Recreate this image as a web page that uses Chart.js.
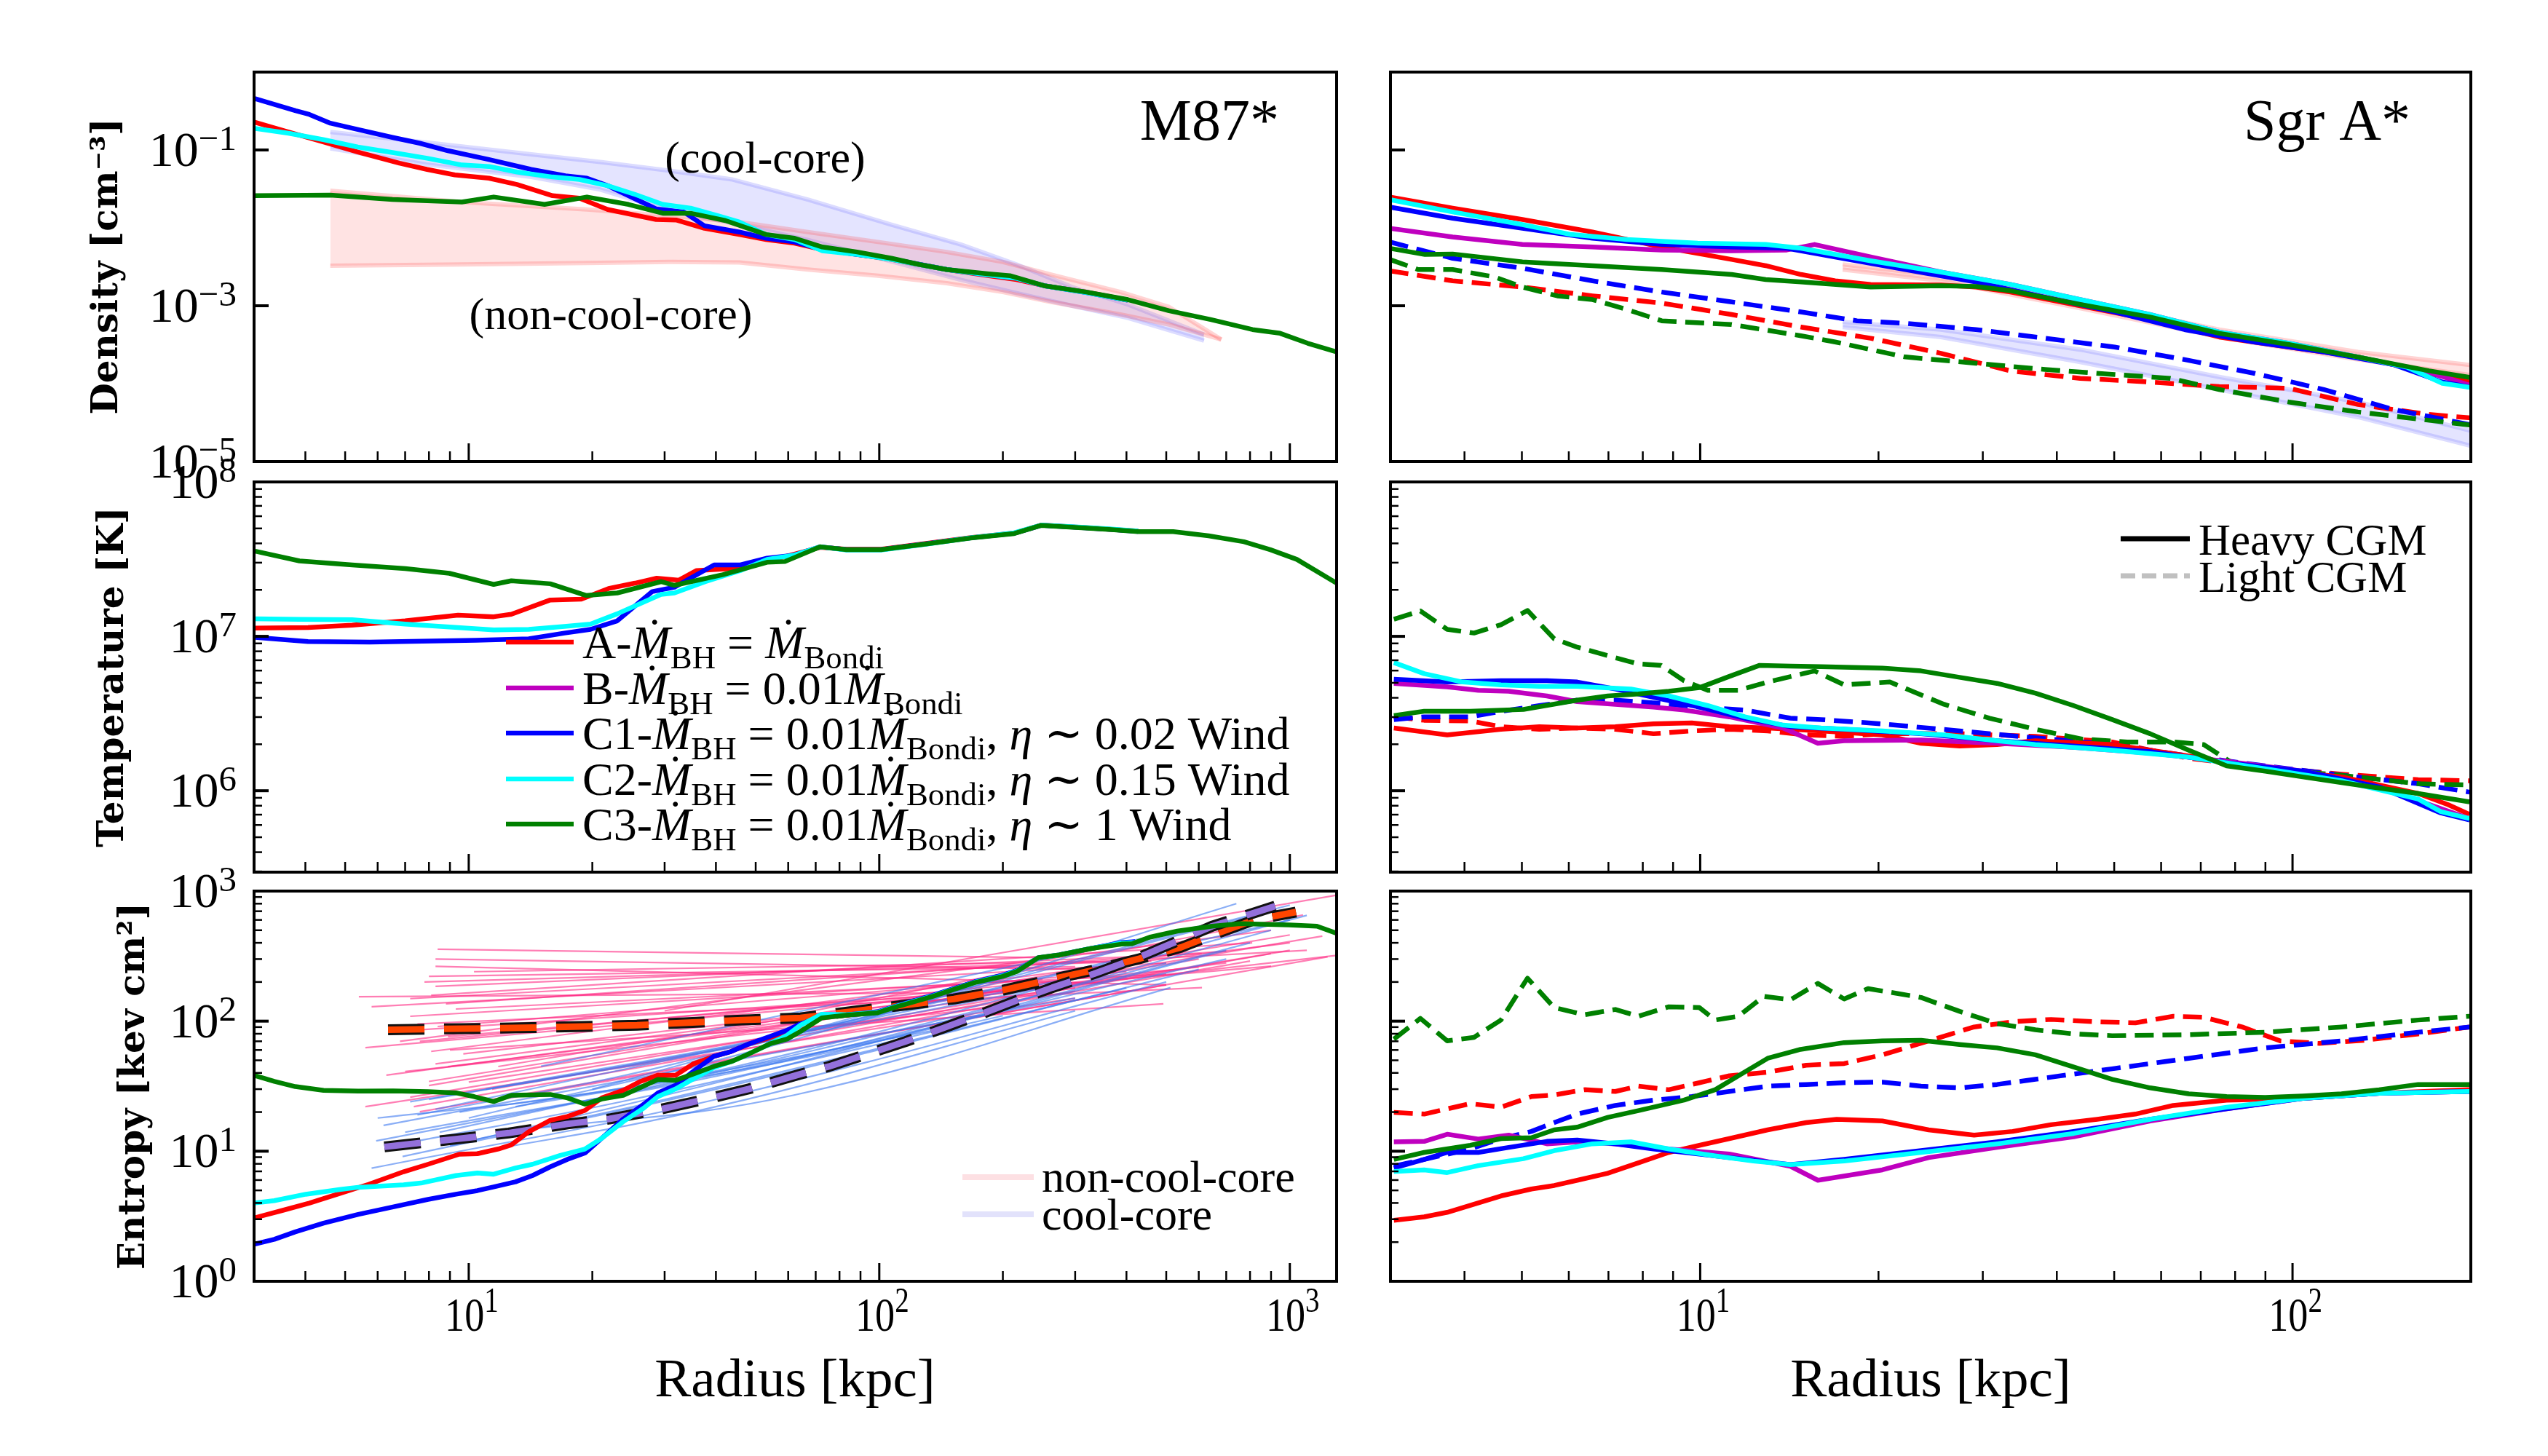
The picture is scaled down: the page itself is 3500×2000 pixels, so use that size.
<!DOCTYPE html>
<html><head><meta charset="utf-8">
<script src="https://cdn.jsdelivr.net/npm/chart.js@4.4.1/dist/chart.umd.min.js"></script>
<style>
html,body{margin:0;padding:0;background:#fff;}
#page{position:relative;width:3500px;height:2000px;background:#fff;overflow:hidden;}
canvas{position:absolute;}
</style></head><body><div id="page"></div>
<script>
// ================= DATA =================
// ---- M87* : density [cm^-3] vs radius [kpc] ----
const m87DensR_A = [2.99,3.64,4.42,5.37,6.78,7.92,9.25,11.2,13.1,16.0,18.6,21.8,28.6,32.1,37.5,45.6,53,62.2,72.7,88.3,107,146,185,216,252,319,403];
const m87Dens_A  = [0.229,0.170,0.127,0.0942,0.0676,0.0562,0.0478,0.0434,0.0361,0.0259,0.0240,0.0172,0.0128,0.0126,0.00989,0.00822,0.00709,0.00635,0.00527,0.00455,0.00393,0.00292,0.00243,0.00217,0.00181,0.00150,0.00118];
const m87DensR_C1 = [2.99,3.79,4.09,4.6,5.37,6.52,7.6,8.9,11.2,14.2,17.2,19.4,21.8,28.6,33.4,37.5,45.6,53,62.2,72.7,88.3,107,146,185,216,252,319,403];
const m87Dens_C1  = [0.462,0.319,0.286,0.221,0.183,0.145,0.122,0.0978,0.0755,0.0562,0.0467,0.0434,0.0348,0.0175,0.0160,0.01064,0.00885,0.00736,0.00659,0.00527,0.00455,0.00400,0.00292,0.00248,0.00225,0.00181,0.00148,0.00118];
const m87DensR_C2 = [2.99,3.64,4.42,5.37,6.52,7.92,9.62,11.2,13.1,16.0,18.6,21.8,25.4,29.7,34.7,40.5,45.6,53,62.2,72.7,88.3,107,146,185,216,252,319,403];
const m87Dens_C2  = [0.190,0.164,0.136,0.109,0.0929,0.0783,0.0642,0.0614,0.0522,0.0450,0.0418,0.0348,0.0269,0.0200,0.0179,0.0143,0.0119,0.00822,0.00709,0.00508,0.00455,0.00393,0.00292,0.00248,0.00225,0.00181,0.00148,0.00118];
const m87DensR_C3 = [2.99,4.6,6.52,9.62,11.5,15.3,19.4,24.5,29.7,34.7,42.2,53,62.2,72.7,88.3,107,125,146,185,208,252,319,403,508,641,811,947,1106,1334];
const m87Dens_C3  = [0.0259,0.0264,0.0231,0.0215,0.0249,0.0200,0.0249,0.0200,0.0154,0.0154,0.0124,0.00822,0.00736,0.00568,0.00490,0.00407,0.00339,0.00292,0.00256,0.00243,0.00181,0.00150,0.00120,0.000863,0.000666,0.000495,0.000443,0.000330,0.000245];
// observed bands (density)
const ccBandR  = [4.6,7.9,14.2,20.9,30.9,43.9,67,107,158,216,295,403,618];
const ccBandHi = [0.170,0.125,0.088,0.070,0.0542,0.0418,0.0231,0.0110,0.00612,0.00339,0.00174,0.00104,0.000427];
const ccBandLo = [0.105,0.0652,0.0450,0.0311,0.0165,0.0115,0.0070,0.0037,0.00215,0.00145,0.00100,0.00070,0.000356];
const nccBandR  = [4.6,9.62,19.4,30.9,45.6,67,99.3,146,200,262,387,508,681];
const nccBandHi = [0.0300,0.0215,0.0172,0.0143,0.0119,0.00885,0.00659,0.00490,0.00365,0.00252,0.00150,0.000964,0.000369];
const nccBandLo = [0.00327,0.00339,0.00355,0.00365,0.00360,0.00292,0.00243,0.00195,0.00150,0.00112,0.000772,0.000574,0.000369];

// ---- M87* : temperature [K] ----
const m87TempR_A = [3.02,4.06,5.2,7.0,9.42,11.5,12.7,15.8,18.8,21.9,25.4,28.7,32.5,35.9,43.7,50.7,58.9,71.8,83.2,101,130,167,213,248,317,368,427];
const m87Temp_A  = [1.13e7,1.14e7,1.18e7,1.26e7,1.37e7,1.34e7,1.39e7,1.72e7,1.74e7,2.04e7,2.21e7,2.38e7,2.31e7,2.67e7,2.75e7,3.08e7,3.28e7,3.77e7,3.66e7,3.66e7,4.0e7,4.36e7,4.66e7,5.25e7,5.06e7,4.93e7,4.80e7];
const m87TempR_C1 = [3.02,4.06,5.74,7.73,10.4,14.0,17.1,19.8,23.0,28.0,31.7,39.6,45.9,53.3,61.8,71.8,83.2,101,130,167,213,248,317,368,427];
const m87Temp_C1  = [9.84e6,9.25e6,9.17e6,9.31e6,9.44e6,9.64e6,1.05e7,1.11e7,1.26e7,1.95e7,2.08e7,2.90e7,2.90e7,3.21e7,3.35e7,3.80e7,3.64e7,3.64e7,3.97e7,4.34e7,4.65e7,5.24e7,5.05e7,4.92e7,4.78e7];
const m87TempR_C2 = [3.02,3.87,5.2,7.0,8.97,11.5,14.0,17.1,19.8,23.0,29.4,31.7,37.7,45.9,53.3,61.8,71.8,83.2,101,130,167,213,248,317,368,427];
const m87Temp_C2  = [1.30e7,1.29e7,1.28e7,1.20e7,1.15e7,1.10e7,1.11e7,1.16e7,1.20e7,1.40e7,1.87e7,1.91e7,2.26e7,2.67e7,3.15e7,3.35e7,3.80e7,3.62e7,3.62e7,3.95e7,4.35e7,4.68e7,5.25e7,5.08e7,4.95e7,4.80e7];
const m87TempR_C3 = [3.02,3.87,5.2,7.0,8.97,11.5,12.7,15.8,19.3,23.0,29.4,31.7,41.6,53.3,58.9,71.8,83.2,101,130,167,213,248,317,368,427,520,634,773,897,1040,1300];
const m87Temp_C3  = [3.56e7,3.08e7,2.90e7,2.75e7,2.56e7,2.17e7,2.29e7,2.19e7,1.84e7,1.91e7,2.26e7,2.14e7,2.51e7,3.02e7,3.05e7,3.80e7,3.64e7,3.64e7,3.96e7,4.33e7,4.63e7,5.23e7,5.03e7,4.91e7,4.77e7,4.77e7,4.48e7,4.10e7,3.64e7,3.15e7,2.21e7];

// ---- M87* : entropy [keV cm^2] ----
const m87EntR_A = [2.99,3.50,4.09,4.79,5.71,6.94,7.96,9.48,10.5,11.8,12.7,14.0,15.8,17.4,19.2,21.1,23.8,26.2,28.9,31.9,35.2,39.5,43.6,48.1,54.1,59.7,64.3,72.4,83.0,99,111,135,171,200,217,244,274,327,389,420];
const m87Ent_A  = [3.06,3.49,3.99,4.67,5.57,6.95,7.94,9.48,9.57,10.4,11.2,14.1,17.3,18.5,20.6,25.7,29.4,34.4,38.4,38.4,46.9,53.5,58.5,66.8,74.7,83.4,95.2,108,111,117,131,157,200,225,245,306,321,360,400,405];
const m87EntR_C1 = [2.99,3.36,3.78,4.43,5.38,6.54,7.96,9.31,10.5,11.5,13.0,14.3,15.8,17.4,19.2,21.1,23.8,26.7,28.9,31.9,35.2,39.5,43.6,48.1,54.1,59.7,64.3,72.4,83.0,99,111,135,171,200,217,244,274,327,389,420];
const m87Ent_C1  = [1.92,2.10,2.40,2.80,3.27,3.73,4.26,4.67,4.98,5.32,5.82,6.50,7.59,8.67,9.70,12.6,17.7,23.0,28.1,32.1,41.0,53.5,58.5,66.8,76.2,85.3,95.2,109,112,118,132,158,201,226,246,307,323,362,402,408];
const m87EntR_C2 = [2.99,3.36,4.01,4.88,5.38,6.94,7.65,9.31,10.5,11.5,13.0,14.3,16.7,19.2,21.1,23.8,26.7,28.9,31.9,35.2,39.5,43.6,48.1,54.1,59.7,64.3,72.4,83.0,99,111,135,171,200,217,244,274,327,389,420];
const m87Ent_C2  = [3.99,4.17,4.67,5.09,5.28,5.52,5.69,6.50,6.80,6.65,7.43,7.94,9.27,10.4,12.6,16.9,21.5,26.3,30.1,35.9,43.8,48.9,56.0,66.8,78.0,93.1,113,112,117,131,156,199,223,244,307,322,362,398,402];
const m87EntR_C3 = [2.99,3.36,3.78,4.43,5.38,6.54,7.96,9.31,10.3,11.5,12.7,15.8,17.4,19.2,21.1,23.8,28.9,31.9,35.2,39.5,43.6,48.1,54.1,59.7,64.3,72.4,83.0,99,111,135,171,200,217,244,274,327,389,413,455,532,647,757,995,1164,1309];
const m87Ent_C3  = [38.4,34.4,31.4,29.4,29.0,29.1,28.7,28.1,26.3,24.1,26.9,27.3,25.7,23.0,25.2,26.9,35.6,35.1,39.2,44.8,48.9,56.0,66.8,73.0,83.4,106,111,116,130,155,198,221,242,308,323,361,391,394,441,492,537,562,550,537,470];
// observed medians
const nccMedR = [6.36,14.3,25.7,46.3,64.3,86.3,116,152,200,258,333,430,543,661,819,1035];
const nccMed  = [85.9,89.1,93.1,102,106,119,133,148,173,207,247,302,369,470,600,690];
const ccMedR = [6.23,7.65,9.31,12.5,17.4,22.0,29.5,38.0,48.1,64.3,75.4,91.6,116,144,178,217,264,333,421,532,647,757,921];
const ccMed  = [10.8,11.6,12.4,13.8,16.2,17.7,21.1,25.2,30.1,39.2,44.8,54.7,69.8,89.1,114,145,181,231,302,412,537,628,766];
// individual observed profiles: [r_start, K_start, r_end, K_end]
const nccProfiles = [
 [8.4,357,244,308],[8.3,300,330,250],[10.3,240,420,290],[8.0,221,300,262],[7.8,200,460,290],
 [5.4,154,150,165],[8.3,185,610,330],[5.8,129,500,280],[8.1,158,810,400],[8.8,136,700,345],
 [5.6,62.5,350,200],[6.8,70,900,500],[8.1,58.5,1000,400],[6.3,38.4,400,220],[8.0,34.4,600,300],
 [5.6,22.0,300,150],[7.35,22.0,800,290],[8.0,32,1200,450],[7.2,26,1000,350],[7.6,20.1,500,190],
 [8.3,46.9,700,280],[8.9,44.8,300,180],[9.7,56,1300,320],[7.2,109,250,210],[6.5,83,200,170],
 [8.4,91,400,240],[7.6,70,600,260],[8.9,76,900,265],[10,34,300,170],[11.4,30,900,330],
 [8.3,264,500,190],[9.3,124,500,230],[7.2,149,1100,350],[11.8,44.8,1000,460],[7.0,41,200,130],
 [30,120,1300,930],[12,25,1236,312],[60,110,1077,656],[7.5,95,611,181],[9,60,492,136]
];
// [r_start, K_start, r_mid, K_mid, r_end, K_end]
const ccProfiles = [
 [5.8,7.4,40,25,500,200],[6.2,15.8,30,40,300,150],[5.95,12,50,45,700,300],[6.9,9.1,40,30,600,250],
 [8.3,21,40,60,400,260],[7,14,60,50,900,500],[9,11,50,40,800,400],[10,18,60,70,741,800],
 [8,25,50,70,500,350],[12,14,62,27,512,181],[9,9,40,22,300,120],[7.5,19,30,45,900,700],
 [6.5,11,25,25,200,110],[11,30,60,80,1000,600],[8.5,14,70,60,500,280],[7.2,24,35,55,250,180],
 [9.5,20,45,45,1100,650],[6,18,20,28,150,90],[13,22,80,60,700,350],[10,12,30,25,400,180],
 [20,30,100,120,1000,780],[15,45,100,160,640,560]
];

// ---- Sgr A* : density ----
const sgrDensR_A = [2.99,3.82,5.01,6.58,8.61,11.3,12.9,14.8,16.9,19.4,25.5,29.2,33.4,43.8,57.4,75.2,98.6,129,148,170,204];
const sgrDens_A  = [0.0249,0.0179,0.0128,0.00885,0.00568,0.00393,0.00327,0.00252,0.00209,0.00188,0.00185,0.00174,0.00150,0.00100,0.000666,0.000397,0.000295,0.000220,0.000176,0.000136,0.000101];
const sgrDensR_B = [2.99,3.82,5.01,6.58,8.61,11.3,14.0,15.6,19.4,25.5,33.4,43.8,57.4,75.2,98.6,129,170,204];
const sgrDens_B  = [0.00989,0.00764,0.00612,0.00568,0.00520,0.00508,0.00520,0.00612,0.00423,0.00271,0.00188,0.00120,0.000772,0.000460,0.000330,0.000220,0.000140,0.0000900];
const sgrDensR_C1 = [2.99,3.82,5.01,6.58,8.61,11.3,14.0,16.9,22.2,29.2,38.2,50.1,65.7,86.1,113,148,179,204];
const sgrDens_C1  = [0.0185,0.0133,0.00989,0.00736,0.00612,0.00568,0.00547,0.00423,0.00292,0.00202,0.00129,0.000832,0.000495,0.000343,0.000255,0.000176,0.000105,0.0000873];
const sgrDensR_C2 = [2.99,3.82,5.01,6.05,7.52,9.9,12.9,14.8,19.4,25.5,33.4,43.8,57.4,75.2,98.6,129,156,179,204];
const sgrDens_C2  = [0.0231,0.0160,0.0110,0.00822,0.00709,0.00635,0.00612,0.00547,0.00378,0.00271,0.00188,0.00120,0.000772,0.000460,0.000330,0.000220,0.000163,0.000101,0.0000873];
const sgrDensR_C3 = [2.99,3.43,3.82,5.01,6.58,8.61,11.3,12.9,14.8,19.4,25.5,29.2,33.4,43.8,57.4,75.2,98.6,129,170,204];
const sgrDens_C3  = [0.00547,0.00455,0.00462,0.00365,0.00327,0.00292,0.00252,0.00217,0.00202,0.00174,0.00181,0.00177,0.00156,0.00104,0.000718,0.000443,0.000318,0.000220,0.000146,0.000117];
const sgrDensR_A_light = [2.99,3.82,5.01,6.58,8.61,11.3,14.8,19.4,25.5,33.4,43.8,57.4,75.2,98.6,129,170,204];
const sgrDens_A_light  = [0.00281,0.00209,0.00174,0.00134,0.00108,0.000772,0.000533,0.000383,0.000245,0.000146,0.000117,0.000105,0.0000918,0.0000873,0.0000540,0.0000402,0.0000359];
const sgrDensR_C1_light = [2.99,3.82,5.01,6.58,8.61,11.3,14.8,18.4,22.2,29.2,38.2,50.1,65.7,86.1,113,148,204];
const sgrDens_C1_light  = [0.00659,0.00407,0.00303,0.00209,0.00150,0.00112,0.000832,0.000641,0.000595,0.000495,0.000383,0.000295,0.000204,0.000136,0.0000841,0.0000466,0.0000288];
const sgrDensR_C3_light = [2.99,3.34,3.82,4.5,5.01,5.74,6.58,7.52,8.61,11.3,14.8,16.9,22.2,29.2,38.2,50.1,62.2,75.2,98.6,129,204];
const sgrDens_C3_light  = [0.00393,0.00292,0.00292,0.00234,0.00174,0.00134,0.00120,0.000895,0.000641,0.000574,0.000412,0.000343,0.000220,0.000183,0.000152,0.000131,0.000117,0.0000841,0.0000581,0.0000433,0.0000288];
const sgrBandR = [17.4,25.5,43.8,75.2,129,204];
const heavyBandHi = [0.00339,0.00243,0.00116,0.000495,0.000255,0.000170];
const heavyBandLo = [0.00292,0.00209,0.000929,0.000397,0.000204,0.000126];
const lightBandHi = [0.000618,0.000495,0.000274,0.000122,0.0000581,0.0000239];
const lightBandLo = [0.000533,0.000397,0.000190,0.0000841,0.0000372,0.0000153];

// ---- Sgr A* : temperature ----
const sgrTempR_A = [3.04,3.74,4.61,5.35,6.20,7.19,8.34,9.68,11.2,13.0,16.0,20.3,23.6,27.4,31.7,36.8,49.6,66.8,89.9,121,163,183,199];
const sgrTemp_A  = [2.55e6,2.30e6,2.50e6,2.60e6,2.55e6,2.60e6,2.71e6,2.75e6,2.60e6,2.55e6,2.44e6,2.30e6,2.03e6,1.95e6,1.99e6,2.11e6,1.99e6,1.68e6,1.39e6,1.23e6,9.59e5,8.13e5,7.03e5];
const sgrTempR_B = [3.04,3.74,4.22,4.75,5.51,6.20,7.19,8.34,9.39,11.2,13.8,15.8,17.5,23.6,31.7,42.7,57.5,77.4,104,140,199];
const sgrTemp_B  = [4.96e6,4.71e6,4.47e6,4.41e6,4.11e6,3.78e6,3.63e6,3.48e6,3.33e6,3.01e6,2.55e6,2.03e6,2.11e6,2.13e6,2.03e6,1.91e6,1.75e6,1.55e6,1.34e6,1.06e6,6.60e5];
const sgrTempR_C1 = [3.04,3.74,4.61,5.51,6.20,7.19,8.34,9.97,11.9,14.2,17.5,23.6,31.7,42.7,57.5,77.4,104,140,178,199];
const sgrTemp_C1  = [5.27e6,5.06e6,5.16e6,5.16e6,5.06e6,4.56e6,4.03e6,3.48e6,2.95e6,2.60e6,2.50e6,2.34e6,2.11e6,1.95e6,1.79e6,1.52e6,1.34e6,1.06e6,7.18e5,6.46e5];
const sgrTempR_C2 = [3.04,3.42,3.97,4.61,5.35,6.20,7.64,8.85,10.3,11.9,13.8,16.0,20.3,25.8,31.7,36.8,49.6,66.8,89.9,121,163,178,199];
const sgrTemp_C2  = [6.76e6,5.73e6,5.06e6,4.85e6,4.75e6,4.75e6,4.56e6,4.11e6,3.56e6,3.01e6,2.66e6,2.55e6,2.44e6,2.30e6,2.11e6,1.99e6,1.83e6,1.65e6,1.39e6,1.16e6,8.83e5,7.33e5,6.60e5];
const sgrTempR_C3 = [3.04,3.42,4.09,5.03,6.20,6.98,7.86,8.85,9.97,11.2,12.6,14.2,16.0,20.3,23.6,27.4,31.7,36.8,42.7,49.6,57.5,66.8,77.4,89.9,104,121,140,163,199];
const sgrTemp_C3  = [3.07e6,3.27e6,3.27e6,3.36e6,3.86e6,4.11e6,4.23e6,4.41e6,4.65e6,5.50e6,6.49e6,6.41e6,6.36e6,6.22e6,5.97e6,5.43e6,4.96e6,4.29e6,3.56e6,2.89e6,2.34e6,1.83e6,1.45e6,1.34e6,1.23e6,1.13e6,1.04e6,9.59e5,8.47e5];
const sgrTempR_A_light = [3.04,3.42,4.09,4.61,5.35,6.20,7.19,8.34,9.68,11.2,13.0,15.1,17.5,20.3,27.4,36.8,49.6,66.8,89.9,121,163,199];
const sgrTemp_A_light  = [3.01e6,2.86e6,2.83e6,2.60e6,2.50e6,2.55e6,2.50e6,2.34e6,2.44e6,2.50e6,2.44e6,2.30e6,2.25e6,2.34e6,2.34e6,2.25e6,2.07e6,1.62e6,1.42e6,1.28e6,1.18e6,1.16e6];
const sgrTempR_C1_light = [3.04,3.42,4.09,4.61,5.35,6.20,7.19,8.34,9.97,11.9,14.2,16.0,20.3,27.4,36.8,49.6,66.8,89.9,121,163,199];
const sgrTemp_C1_light  = [2.89e6,3.01e6,3.01e6,3.27e6,3.56e6,3.86e6,3.86e6,3.71e6,3.48e6,3.33e6,2.95e6,2.89e6,2.71e6,2.44e6,2.20e6,1.99e6,1.68e6,1.45e6,1.26e6,1.11e6,9.79e5];
const sgrTempR_C3_light = [3.04,3.37,3.74,4.15,4.61,5.11,5.67,6.20,6.98,7.86,8.59,9.39,10.3,11.6,13.0,15.6,17.5,20.9,25.8,30.8,36.8,44.1,52.6,62.9,70.8,79.8,95.3,121,163,199];
const sgrTemp_C3_light  = [1.29e7,1.46e7,1.11e7,1.05e7,1.19e7,1.47e7,9.64e6,8.51e6,7.50e6,6.63e6,6.49e6,5.16e6,4.47e6,4.47e6,5.06e6,5.97e6,4.85e6,5.06e6,3.63e6,2.95e6,2.50e6,2.16e6,2.07e6,2.07e6,1.99e6,1.48e6,1.36e6,1.26e6,1.11e6,1.09e6];

// ---- Sgr A* : entropy ----
const sgrEntR_A = [3.04,3.42,3.74,4.22,4.61,5.19,5.67,6.20,6.98,7.86,8.85,9.97,11.2,13.0,15.1,17.0,20.3,24.3,29.0,33.7,39.1,46.8,54.3,62.9,77.4,104,140,199];
const sgrEnt_A  = [2.94,3.13,3.39,4.00,4.53,5.12,5.45,5.98,6.77,8.14,9.79,11.1,12.5,14.6,16.6,17.6,17.1,14.6,13.3,14.2,16.0,17.6,19.3,22.5,24.7,25.5,27.9,29.7];
const sgrEntR_B = [3.04,3.42,3.74,4.22,4.75,5.51,6.20,7.19,8.85,11.2,14.2,15.8,20.3,24.3,31.7,42.7,57.5,77.4,104,140,199];
const sgrEnt_B  = [11.8,11.9,13.5,12.4,13.3,11.4,11.8,11.4,10.4,9.51,7.66,5.98,7.19,8.93,10.7,12.9,17.1,21.2,25.5,27.9,28.8];
const sgrEntR_C1 = [3.04,3.42,3.74,4.22,4.75,5.51,6.20,7.19,8.34,9.97,11.9,14.2,17.5,23.6,31.7,42.7,57.5,77.4,104,140,199];
const sgrEnt_C1  = [7.42,8.65,9.79,9.79,10.7,11.9,12.2,11.4,10.4,9.51,8.65,7.88,8.65,10.1,11.8,14.2,17.6,21.2,25.5,27.9,28.8];
const sgrEntR_C2 = [3.04,3.42,3.74,4.22,5.03,5.67,6.58,7.64,8.85,10.6,12.3,14.2,17.5,23.6,31.7,42.7,57.5,77.4,104,140,199];
const sgrEnt_C2  = [6.98,7.19,6.85,7.75,8.76,10.1,11.4,11.8,10.4,9.21,8.40,7.88,8.40,9.79,11.4,13.7,17.6,21.8,25.5,27.9,28.8];
const sgrEntR_C3 = [3.04,3.42,4.09,4.61,5.19,5.67,6.20,6.98,7.86,9.39,10.6,11.6,13.0,14.7,17.5,20.3,23.6,27.4,31.7,36.8,42.7,49.6,57.5,66.8,77.4,89.9,104,121,140,163,199];
const sgrEnt_C3  = [8.65,9.79,11.1,12.5,12.7,14.6,15.3,18.2,20.5,24.7,29.7,38.0,51.8,60.4,68.4,70.5,71.3,66.2,62.3,55.1,44.4,35.7,30.7,27.6,26.3,25.9,26.6,27.6,29.7,32.6,32.6];
const sgrEntR_A_light = [3.04,3.42,4.09,4.61,5.19,5.67,6.38,7.19,7.86,8.85,9.97,11.2,13.0,15.1,17.5,20.3,24.3,29.0,33.7,39.1,46.8,54.3,62.9,70.8,82.2,95.3,111,132,163,199];
const sgrEnt_A_light  = [19.9,19.3,23.2,21.8,26.3,27.1,29.7,28.8,31.6,29.7,33.6,38.0,40.5,45.8,47.2,55.1,70.5,90.2,98.9,103,98.9,97.1,109,107,90.2,70.5,67.4,71.3,79.8,90.2];
const sgrEntR_C1_light = [3.04,3.42,4.09,4.61,5.19,5.67,6.20,7.19,8.34,9.68,11.2,13.0,15.1,17.5,20.3,23.6,27.4,31.7,36.8,42.7,49.6,66.8,89.9,121,163,199];
const sgrEnt_C1_light  = [7.66,8.65,10.4,12.5,14.2,16.6,19.3,22.5,24.7,26.3,28.8,31.6,32.6,33.6,34.0,31.6,30.7,32.6,35.7,39.2,43.0,51.8,62.3,70.5,82.2,90.2];
const sgrEntR_C3_light = [3.04,3.37,3.74,4.15,4.61,5.11,5.67,6.38,7.19,7.86,8.85,9.97,10.6,11.6,12.8,14.2,15.8,17.5,19.2,23.6,27.4,31.7,36.8,42.7,49.6,66.8,89.9,121,163,199];
const sgrEnt_C3_light  = [72.7,105,70.5,75.0,102,214,127,112,123,109,129,127,102,109,155,146,195,148,178,152,119,95.9,85.9,79.8,77.3,78.7,82.2,90.2,102,109];

// ---- axis ticks & labels ----
const densTickVals = [1e-5,1e-3,1e-1];
const densTickExp  = ['\u22125','\u22123','\u22121'];
const tempTickVals = [1e6,1e7,1e8];
const tempTickExp  = ['6','7','8'];
const entTickVals  = [1,10,100,1000];
const entTickExp   = ['0','1','2','3'];
const radTickValsL = [10,100,1000];
const radTickExpL  = ['1','2','3'];
const radTickValsR = [10,100];
const radTickExpR  = ['1','2'];

// ================= STYLE / DRAWING =================
const SERIF = '"Liberation Serif", "DejaVu Serif", serif';
const COL = {A:'#ff0000', B:'#bf00bf', C1:'#0000ff', C2:'#00ffff', C3:'#008000'};
const DASH = [26, 12];
const LW = 6.5;

function line(r, v, color, extra) {
  return Object.assign({data: r.map((x,i)=>({x:x, y:v[i]})), borderColor: color, backgroundColor: color,
    borderWidth: LW, pointRadius: 0, pointHoverRadius: 0, fill: false, tension: 0,
    borderJoinStyle: 'round'}, extra || {});
}
function band(r, hi, lo, edge, fillc) {
  return [
    line(r, hi, edge, {borderWidth: 6, fill: '+1', backgroundColor: fillc}),
    line(r, lo, edge, {borderWidth: 6})
  ];
}

function minorTicks(lo, hi) {
  const out = [];
  for (let e = Math.floor(Math.log10(lo)); e <= Math.ceil(Math.log10(hi)); e++)
    for (let m = 2; m <= 9; m++) { const v = m * Math.pow(10, e); if (v > lo && v < hi) out.push(v); }
  return out;
}

function rich(ctx, x, y, parts, opt) {
  opt = opt || {};
  const size = opt.size || 60, sx = opt.sx || 1, small = opt.small || 0.7;
  let w = 0;
  const ms = parts.map(p => {
    const s = (p.sub || p.sup) ? size * small : size;
    const f = (p.it ? 'italic ' : '') + s.toFixed(1) + 'px ' + SERIF;
    ctx.font = f;
    const mw = ctx.measureText(p.t).width; w += mw;
    return {f: f, mw: mw, dy: p.sub ? size * 0.22 : (p.sup ? -size * (opt.supRaise || 0.36) : 0)};
  });
  const x0 = opt.align === 'right' ? x - w * sx : (opt.align === 'center' ? x - w * sx / 2 : x);
  ctx.save();
  ctx.translate(x0, y); ctx.scale(sx, 1);
  ctx.textAlign = 'left'; ctx.textBaseline = 'alphabetic'; ctx.fillStyle = '#000';
  let cx = 0;
  parts.forEach((p, i) => { ctx.font = ms[i].f; ctx.fillText(p.t, cx, ms[i].dy); cx += ms[i].mw; });
  ctx.restore();
}

const decoPlugin = {
  id: 'deco',
  afterDraw(chart) {
    const d = chart.canvas._deco; if (!d) return;
    const ctx = chart.ctx, ca = chart.chartArea, xs = chart.scales.x, ys = chart.scales.y;
    ctx.save();
    ctx.strokeStyle = '#000'; ctx.lineCap = 'butt';
    const xt = (v, len, lw) => {
      const px = xs.getPixelForValue(v);
      if (px < ca.left + 2 || px > ca.right - 2) return;
      ctx.lineWidth = lw; ctx.beginPath(); ctx.moveTo(px, ca.bottom); ctx.lineTo(px, ca.bottom - len); ctx.stroke();
    };
    d.xMajor.forEach(v => xt(v, 25, 3));
    minorTicks(d.xmin, d.xmax).forEach(v => { if (d.xMajor.indexOf(v) < 0) xt(v, 14, 2.5); });
    const yt = (v, len, lw) => {
      const py = ys.getPixelForValue(v);
      if (py < ca.top - 1 || py > ca.bottom + 1) return;
      ctx.lineWidth = lw; ctx.beginPath(); ctx.moveTo(ca.left, py); ctx.lineTo(ca.left + len, py); ctx.stroke();
    };
    d.yMajor.forEach(v => yt(v, 20, 4));
    if (d.yMinor) minorTicks(d.ymin, d.ymax).forEach(v => yt(v, 11, 2.5));
    ctx.lineWidth = 4;
    ctx.strokeRect(ca.left, ca.top, ca.right - ca.left, ca.bottom - ca.top);

    if (d.yLabels) {
      d.yMajor.forEach((v, i) => {
        const py = ys.getPixelForValue(v);
        rich(ctx, ca.left - 24, py + 22, [{t:'10'}, {t:d.yLabels[i], sup:1}], {align:'right', size:68, small:0.72, supRaise:0.33});
      });
    }
    if (d.xLabels) {
      d.xMajor.forEach((v, i) => {
        const px = xs.getPixelForValue(v);
        rich(ctx, px + 4, ca.bottom + 68, [{t:'10'}, {t:d.xLabels[i], sup:1}], {align:'center', size:66, sx:0.82, small:0.72, supRaise:0.4});
      });
    }
    ctx.translate(-d.cx, -d.cy);
    if (d.draw) d.draw(ctx);
    ctx.restore();
  }
};

function yTitle(ctx, text, x, y) {
  ctx.save(); ctx.translate(x, y); ctx.rotate(-Math.PI / 2);
  ctx.font = 'bold 50px "DejaVu Serif"'; ctx.fillStyle = '#000';
  ctx.textAlign = 'center'; ctx.textBaseline = 'middle';
  ctx.fillText(text, 0, 0); ctx.restore();
}
function plainText(ctx, text, x, y, size, align) {
  ctx.font = size + 'px ' + SERIF; ctx.fillStyle = '#000';
  ctx.textAlign = align || 'left'; ctx.textBaseline = 'alphabetic';
  ctx.fillText(text, x, y);
}
function handle(ctx, x0, x1, y, color, lw, dash) {
  ctx.save(); ctx.strokeStyle = color; ctx.lineWidth = lw; ctx.setLineDash(dash || []);
  ctx.beginPath(); ctx.moveTo(x0, y); ctx.lineTo(x1, y); ctx.stroke(); ctx.restore();
}

// ================= PANELS =================
const XL = [349, 1836], XR = [1910, 3394];
const ROWS = [[99, 634], [662, 1198], [1224, 1760]];
const CANV = [[0, 680], [630, 600], [1190, 810]];
const COLS = [[0, 1880], [1860, 1640]];

function makePanel(col, row, xmin, xmax, ymin, ymax, datasets, deco) {
  const [cx, cw] = COLS[col], [cy, ch] = CANV[row];
  const [x0, x1] = col === 0 ? XL : XR, [y0, y1] = ROWS[row];
  const cv = document.createElement('canvas');
  cv.width = cw; cv.height = ch; cv.style.left = cx + 'px'; cv.style.top = cy + 'px';
  document.getElementById('page').appendChild(cv);
  deco.cx = cx; deco.cy = cy; deco.xmin = xmin; deco.xmax = xmax; deco.ymin = ymin; deco.ymax = ymax;
  cv._deco = deco;
  datasets.forEach((d, i) => { d.order = datasets.length - i; });
  new Chart(cv.getContext('2d'), {
    type: 'line',
    data: {datasets: datasets},
    options: {
      responsive: false, animation: false, devicePixelRatio: 1, events: [],
      layout: {padding: {left: x0 - cx, right: cx + cw - x1, top: y0 - cy, bottom: cy + ch - y1}},
      scales: {
        x: {type: 'logarithmic', min: xmin, max: xmax, display: false},
        y: {type: 'logarithmic', min: ymin, max: ymax, display: false}
      },
      plugins: {legend: {display: false}, tooltip: {enabled: false}}
    },
    plugins: [decoPlugin]
  });
}

const CC_FILL = 'rgba(90,90,255,0.16)', CC_EDGE = 'rgba(80,80,255,0.2)';
const NCC_FILL = 'rgba(255,80,80,0.16)', NCC_EDGE = 'rgba(255,60,60,0.22)';

// ---- M87* density ----
makePanel(0, 0, 3, 1300, 1e-5, 1, [
  ...band(ccBandR, ccBandHi, ccBandLo, CC_EDGE, CC_FILL),
  ...band(nccBandR, nccBandHi, nccBandLo, NCC_EDGE, NCC_FILL),
  line(m87DensR_A, m87Dens_A, COL.A),
  line(m87DensR_C1, m87Dens_C1, COL.C1),
  line(m87DensR_C2, m87Dens_C2, COL.C2),
  line(m87DensR_C3, m87Dens_C3, COL.C3)
], {xMajor: radTickValsL, yMajor: densTickVals, yLabels: densTickExp, draw(ctx) {
  yTitle(ctx, 'Density [cm\u207B\u00B3]', 148, 366);
  plainText(ctx, 'M87*', 1757, 192, 80, 'right');
  plainText(ctx, '(cool-core)', 1051, 237, 62, 'center');
  plainText(ctx, '(non-cool-core)', 839, 452, 62, 'center');
}});

// ---- Sgr A* density ----
makePanel(1, 0, 3, 200, 1e-5, 1, [
  ...band(sgrBandR, heavyBandHi, heavyBandLo, NCC_EDGE, NCC_FILL),
  ...band(sgrBandR, lightBandHi, lightBandLo, CC_EDGE, CC_FILL),
  line(sgrDensR_A_light, sgrDens_A_light, COL.A, {borderDash: DASH}),
  line(sgrDensR_C1_light, sgrDens_C1_light, COL.C1, {borderDash: DASH}),
  line(sgrDensR_C3_light, sgrDens_C3_light, COL.C3, {borderDash: DASH}),
  line(sgrDensR_A, sgrDens_A, COL.A),
  line(sgrDensR_B, sgrDens_B, COL.B),
  line(sgrDensR_C1, sgrDens_C1, COL.C1),
  line(sgrDensR_C2, sgrDens_C2, COL.C2),
  line(sgrDensR_C3, sgrDens_C3, COL.C3)
], {xMajor: radTickValsR, yMajor: densTickVals, draw(ctx) {
  plainText(ctx, 'Sgr A*', 3311, 192, 80, 'right');
}});

// ---- M87* temperature ----
const LEGEND_ROWS = [
  {c: COL.A,  parts: [{t:'A-'},{t:'\u1E40',it:1},{t:'BH',sub:1},{t:' = '},{t:'\u1E40',it:1},{t:'Bondi',sub:1}]},
  {c: COL.B,  parts: [{t:'B-'},{t:'\u1E40',it:1},{t:'BH',sub:1},{t:' = 0.01'},{t:'\u1E40',it:1},{t:'Bondi',sub:1}]},
  {c: COL.C1, parts: [{t:'C1-'},{t:'\u1E40',it:1},{t:'BH',sub:1},{t:' = 0.01'},{t:'\u1E40',it:1},{t:'Bondi',sub:1},{t:', '},{t:'\u03B7',it:1},{t:' \u223C 0.02 Wind'}]},
  {c: COL.C2, parts: [{t:'C2-'},{t:'\u1E40',it:1},{t:'BH',sub:1},{t:' = 0.01'},{t:'\u1E40',it:1},{t:'Bondi',sub:1},{t:', '},{t:'\u03B7',it:1},{t:' \u223C 0.15 Wind'}]},
  {c: COL.C3, parts: [{t:'C3-'},{t:'\u1E40',it:1},{t:'BH',sub:1},{t:' = 0.01'},{t:'\u1E40',it:1},{t:'Bondi',sub:1},{t:', '},{t:'\u03B7',it:1},{t:' \u223C 1 Wind'}]}
];
makePanel(0, 1, 3, 1300, 2.97e5, 1e8, [
  line(m87TempR_A, m87Temp_A, COL.A),
  line(m87TempR_C1, m87Temp_C1, COL.C1),
  line(m87TempR_C2, m87Temp_C2, COL.C2),
  line(m87TempR_C3, m87Temp_C3, COL.C3)
], {xMajor: radTickValsL, yMajor: tempTickVals, yLabels: tempTickExp, yMinor: true, draw(ctx) {
  yTitle(ctx, 'Temperature [K]', 156, 930);
  const ys = [882, 945, 1007, 1070, 1132];
  LEGEND_ROWS.forEach((row, i) => {
    handle(ctx, 695, 788, ys[i], row.c, 6.5);
    rich(ctx, 800, ys[i] + 22, row.parts, {size: 64});
  });
}});

// ---- Sgr A* temperature ----
makePanel(1, 1, 3, 200, 2.97e5, 1e8, [
  line(sgrTempR_A_light, sgrTemp_A_light, COL.A, {borderDash: DASH}),
  line(sgrTempR_C1_light, sgrTemp_C1_light, COL.C1, {borderDash: DASH}),
  line(sgrTempR_C3_light, sgrTemp_C3_light, COL.C3, {borderDash: DASH}),
  line(sgrTempR_A, sgrTemp_A, COL.A),
  line(sgrTempR_B, sgrTemp_B, COL.B),
  line(sgrTempR_C1, sgrTemp_C1, COL.C1),
  line(sgrTempR_C2, sgrTemp_C2, COL.C2),
  line(sgrTempR_C3, sgrTemp_C3, COL.C3)
], {xMajor: radTickValsR, yMajor: tempTickVals, yMinor: true, draw(ctx) {
  handle(ctx, 2913, 3008, 740, '#000', 7);
  handle(ctx, 2913, 3008, 791, '#c0c0c0', 7, [20, 9]);
  plainText(ctx, 'Heavy CGM', 3020, 762, 61);
  plainText(ctx, 'Light CGM', 3020, 813, 61);
}});

// ---- M87* entropy ----
const thin = [];
nccProfiles.forEach(p => thin.push(line([p[0], p[2]], [p[1], p[3]], 'rgba(255,40,130,0.6)', {borderWidth: 2.2})));
ccProfiles.forEach(p => thin.push(line([p[0], p[2], p[4]], [p[1], p[3], p[5]], 'rgba(60,120,240,0.6)', {borderWidth: 2.2, tension: 0.4})));
makePanel(0, 2, 3, 1300, 1, 1000, [
  ...thin,
  line(nccMedR, nccMed, '#111', {borderWidth: 15, borderDash: [50, 27]}),
  line(nccMedR, nccMed, '#ff4500', {borderWidth: 9, borderDash: [50, 27]}),
  line(ccMedR, ccMed, '#111', {borderWidth: 15, borderDash: [50, 27]}),
  line(ccMedR, ccMed, '#9370db', {borderWidth: 9, borderDash: [50, 27]}),
  line(m87EntR_A, m87Ent_A, COL.A),
  line(m87EntR_C1, m87Ent_C1, COL.C1),
  line(m87EntR_C2, m87Ent_C2, COL.C2),
  line(m87EntR_C3, m87Ent_C3, COL.C3)
], {xMajor: radTickValsL, yMajor: entTickVals, yLabels: entTickExp, xLabels: radTickExpL, yMinor: true, draw(ctx) {
  yTitle(ctx, 'Entropy [kev cm\u00B2]', 185, 1492);
  plainText(ctx, 'Radius [kpc]', 1092, 1918, 75, 'center');
  handle(ctx, 1322, 1420, 1617, '#fde0e3', 8);
  handle(ctx, 1322, 1420, 1668, '#e2e2fb', 8);
  plainText(ctx, 'non-cool-core', 1431, 1637, 62);
  plainText(ctx, 'cool-core', 1431, 1689, 62);
}});

// ---- Sgr A* entropy ----
makePanel(1, 2, 3, 200, 1, 1000, [
  line(sgrEntR_A_light, sgrEnt_A_light, COL.A, {borderDash: DASH}),
  line(sgrEntR_C1_light, sgrEnt_C1_light, COL.C1, {borderDash: DASH}),
  line(sgrEntR_C3_light, sgrEnt_C3_light, COL.C3, {borderDash: DASH}),
  line(sgrEntR_A, sgrEnt_A, COL.A),
  line(sgrEntR_B, sgrEnt_B, COL.B),
  line(sgrEntR_C1, sgrEnt_C1, COL.C1),
  line(sgrEntR_C2, sgrEnt_C2, COL.C2),
  line(sgrEntR_C3, sgrEnt_C3, COL.C3)
], {xMajor: radTickValsR, yMajor: entTickVals, xLabels: radTickExpR, yMinor: true, draw(ctx) {
  plainText(ctx, 'Radius [kpc]', 2652, 1918, 75, 'center');
}});
</script></body></html>
